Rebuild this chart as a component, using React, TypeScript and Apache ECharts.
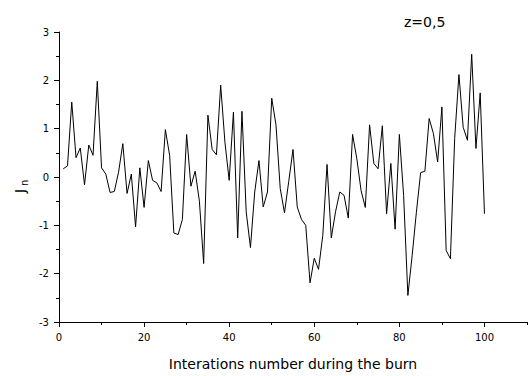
import React, { useEffect, useRef } from "react";
import * as echarts from "echarts";

// Iteration index along the burn and the sampled J_n value at each step
const iterations: number[] = Array.from({ length: 100 }, (_, k) => k + 1);
const jValues: number[] = [
  0.17, 0.23, 1.55, 0.4, 0.6, -0.16, 0.66, 0.45, 1.98, 0.19,
  0.06, -0.32, -0.3, 0.1, 0.69, -0.34, 0.06, -1.03, 0.19, -0.63,
  0.34, -0.07, -0.12, -0.3, 0.98, 0.45, -1.16, -1.19, -0.88, 0.88,
  -0.19, 0.12, -0.5, -1.79, 1.28, 0.57, 0.46, 1.9, 0.72, -0.07,
  1.34, -1.26, 1.36, -0.72, -1.46, -0.31, 0.34, -0.62, -0.31, 1.63,
  1.08, -0.24, -0.74, -0.09, 0.57, -0.62, -0.88, -1.0, -2.19, -1.68,
  -1.91, -1.21, 0.26, -1.26, -0.72, -0.31, -0.38, -0.85, 0.88, 0.38,
  -0.28, -0.63, 1.08, 0.28, 0.17, 1.06, -0.76, 0.28, -1.08, 0.88,
  -0.38, -2.45, -1.63, -0.73, 0.09, 0.12, 1.21, 0.9, 0.31, 1.45,
  -1.52, -1.69, 0.8, 2.12, 1.03, 0.76, 2.54, 0.59, 1.74, -0.76,
];

const xMajorTicks: number[] = [0, 20, 40, 60, 80, 100];
const xMinorTicks: number[] = [10, 30, 50, 70, 90, 110];
const xTitle = "Interations number during the burn";
const panelLabel = "z=0,5";

const FONT = "DejaVu Sans";

export default function App() {
  const ref = useRef<HTMLDivElement>(null);

  useEffect(() => {
    if (!ref.current) return;
    const chart = echarts.init(ref.current, null, { renderer: "svg" });

    const points = iterations.map((x, k) => [x, jValues[k]]);

    chart.setOption({
      animation: false,
      backgroundColor: "#ffffff",
      grid: { left: 59, right: 2, top: 32, bottom: 54, containLabel: false },
      xAxis: [
        {
          type: "value",
          min: 0,
          max: 110,
          position: "bottom",
          name: xTitle,
          nameLocation: "middle",
          nameGap: 35,
          nameTextStyle: { fontFamily: FONT, fontSize: 14, color: "#000" },
          axisLine: { show: true, onZero: false, lineStyle: { color: "#000", width: 1 } },
          axisTick: {
            show: true,
            customValues: xMajorTicks,
            length: 5,
            lineStyle: { color: "#000", width: 1 },
          },
          axisLabel: {
            customValues: xMajorTicks,
            margin: 10,
            fontFamily: FONT,
            fontSize: 10,
            color: "#000",
          },
          splitLine: { show: false },
        },
        {
          type: "value",
          min: 0,
          max: 110,
          position: "bottom",
          axisLine: { show: false, onZero: false },
          axisTick: {
            show: true,
            customValues: xMinorTicks,
            length: 3,
            lineStyle: { color: "#000", width: 1 },
          },
          axisLabel: { show: false },
          splitLine: { show: false },
        },
      ],
      yAxis: {
        type: "value",
        min: -3,
        max: 3,
        interval: 1,
        axisLine: { show: true, onZero: false, lineStyle: { color: "#000", width: 1 } },
        axisTick: { show: true, length: 5, lineStyle: { color: "#000", width: 1 } },
        minorTick: { show: true, splitNumber: 2, length: 3, lineStyle: { color: "#000", width: 1 } },
        axisLabel: { margin: 10, fontFamily: FONT, fontSize: 10, color: "#000" },
        splitLine: { show: false },
      },
      series: [
        {
          type: "line",
          xAxisIndex: 0,
          data: points,
          showSymbol: false,
          lineStyle: { color: "#000", width: 1 },
        },
      ],
      graphic: [
        {
          type: "text",
          left: 404,
          top: 15,
          style: { text: panelLabel, fontFamily: FONT, fontSize: 14, fill: "#000" },
        },
        {
          type: "group",
          x: 20,
          y: 187,
          rotation: Math.PI / 2,
          children: [
            {
              type: "text",
              x: -6,
              y: 0,
              style: {
                text: "J",
                fontFamily: FONT,
                fontSize: 14,
                fill: "#000",
                verticalAlign: "middle",
                align: "left",
              },
            },
            {
              type: "text",
              x: 1,
              y: 4,
              style: {
                text: "n",
                fontFamily: FONT,
                fontSize: 10,
                fill: "#000",
                verticalAlign: "middle",
                align: "left",
              },
            },
          ],
        },
      ],
    });

    return () => chart.dispose();
  }, []);

  return (
    <div
      ref={ref}
      style={{ position: "absolute", left: 0, top: 0, width: 529, height: 376 }}
    />
  );
}
